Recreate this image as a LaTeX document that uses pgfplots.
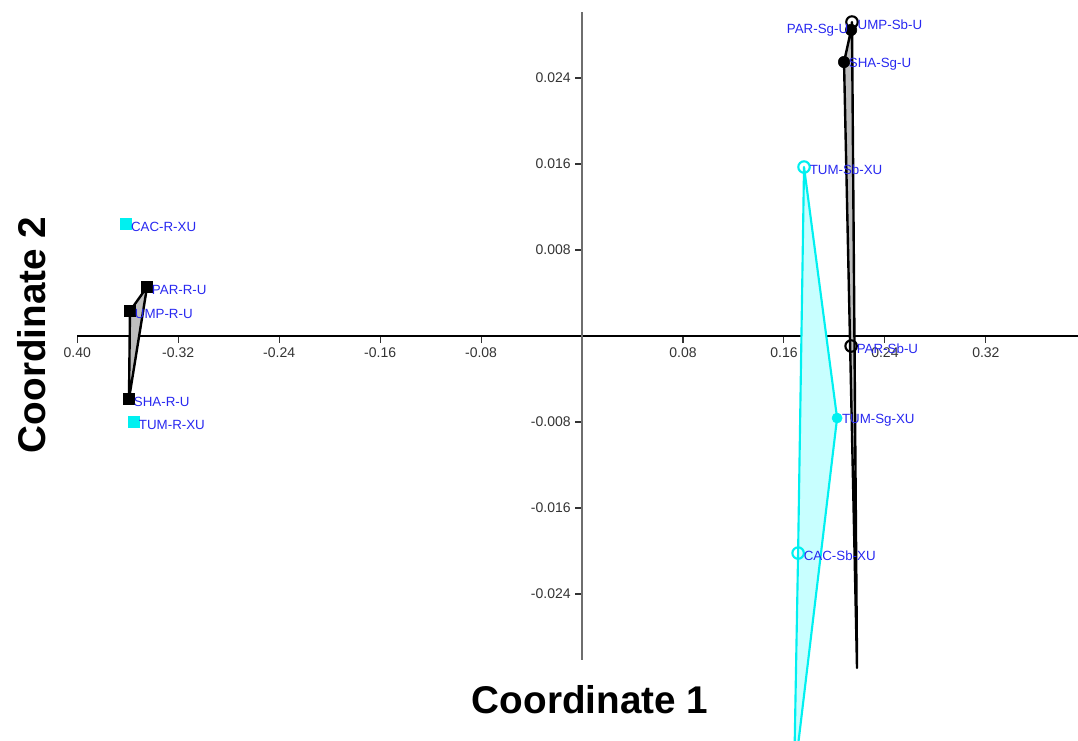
\documentclass[border=0pt]{standalone}
\usepackage{pgfplots}
\pgfplotsset{compat=1.18}
\usepackage{fontspec}
\setmainfont{Liberation Sans}
\definecolor{ptblue}{RGB}{40,40,240}
\definecolor{mycyan}{RGB}{0,240,240}
\definecolor{cyanfill}{RGB}{200,255,255}
\definecolor{hullgray}{RGB}{190,190,190}
\definecolor{axgray}{RGB}{110,110,110}
\begin{document}
\begin{tikzpicture}
\begin{axis}[
  x=946.5pt, y=8062.5pt,
  xmin=-0.40, xmax=0.393, ymin=-0.0301, ymax=0.0301,
  axis lines=middle,
  clip=false,
  axis line style={-},
  x axis line style={black, line width=1pt},
  y axis line style={axgray, line width=1.6pt},
  xtick={-0.40,-0.32,-0.24,-0.16,-0.08,0.08,0.16,0.24,0.32},
  xticklabels={0.40,-0.32,-0.24,-0.16,-0.08,0.08,0.16,0.24,0.32},
  ytick={-0.024,-0.016,-0.008,0.008,0.016,0.024},
  yticklabels={-0.024,-0.016,-0.008,0.008,0.016,0.024},
  tick align=outside,
  major tick length=5pt,
  tick style={black!80, line width=0.8pt},
  ticklabel style={font=\fontsize{10.5}{12}\selectfont, text=black!80},
  xlabel={Coordinate 1},
  ylabel={Coordinate 2},
  xlabel style={at={(rel axis cs:0.5124,-0.0625)}, anchor=center, font=\fontsize{29}{34}\selectfont\bfseries},
  ylabel style={at={(rel axis cs:-0.0451,0.5017)}, anchor=center, rotate=90, font=\fontsize{29}{34}\selectfont\bfseries},
  lbl/.style={nodes near coords, point meta=explicit symbolic,
    nodes near coords style={anchor=west, inner sep=0pt, xshift=3.5pt, yshift=-2pt,
      font=\fontsize{10}{12}\selectfont, text=ptblue}},
]
% hulls
\addplot[draw=black, line width=1.8pt, fill=hullgray, line join=round] coordinates {
  (-0.3447,0.00456) (-0.3582,0.00233) (-0.3590,-0.00586)} -- cycle;
\addplot[draw=black, line width=1.8pt, fill=hullgray, line join=round] coordinates {
  (0.2139,0.02921) (0.2132,0.02847) (0.2076,0.02549) (0.2179,-0.03088)} -- cycle;
\addplot[draw=mycyan, line width=1.6pt, fill=cyanfill, line join=round] coordinates {
  (0.1759,0.01572) (0.2021,-0.00763) (0.1680,-0.0412) (0.1712,-0.02019)} -- cycle;
% cyan squares
\addplot[only marks, mark=square*, mark size=4.2pt, color=mycyan, lbl] table[meta=label] {
x y label
-0.3613 0.01042 CAC-R-XU
-0.3550 -0.0080 TUM-R-XU
};
% black squares
\addplot[only marks, mark=square*, mark size=4.2pt, color=black, lbl] table[meta=label] {
x y label
-0.3447 0.00456 PAR-R-U
-0.3582 0.00233 UMP-R-U
-0.3590 -0.00586 SHA-R-U
};
% black open circles
\addplot[only marks, mark=o, mark size=4.3pt, mark options={line width=1.6pt}, color=black, lbl] table[meta=label] {
x y label
0.2139 0.02921 UMP-Sb-U
0.2132 -0.00093 PAR-Sb-U
};
% black filled circles
\addplot[only marks, mark=*, mark size=4.3pt, color=black, lbl] table[meta=label] {
x y label
0.2076 0.02549 SHA-Sg-U
};
\addplot[only marks, mark=*, mark size=4.3pt, color=black, nodes near coords, point meta=explicit symbolic,
    nodes near coords style={anchor=east, inner sep=0pt, xshift=-2pt, yshift=0pt,
      font=\fontsize{10}{12}\selectfont, text=ptblue}] table[meta=label] {
x y label
0.2132 0.02847 PAR-Sg-U
};
% cyan open circles
\addplot[only marks, mark=o, mark size=4.3pt, mark options={line width=1.6pt}, color=mycyan, lbl] table[meta=label] {
x y label
0.1759 0.01572 TUM-Sb-XU
0.1712 -0.02019 CAC-Sb-XU
};
% cyan filled circle
\addplot[only marks, mark=*, mark size=3.8pt, color=mycyan, lbl] table[meta=label] {
x y label
0.2021 -0.00763 TUM-Sg-XU
};
\coordinate (BL) at (axis cs:-0.4612,-0.03758);
\coordinate (TR) at (axis cs:0.3930,0.03126);
\end{axis}
\pgfresetboundingbox
\useasboundingbox (BL) rectangle (TR);
\end{tikzpicture}
\end{document}
